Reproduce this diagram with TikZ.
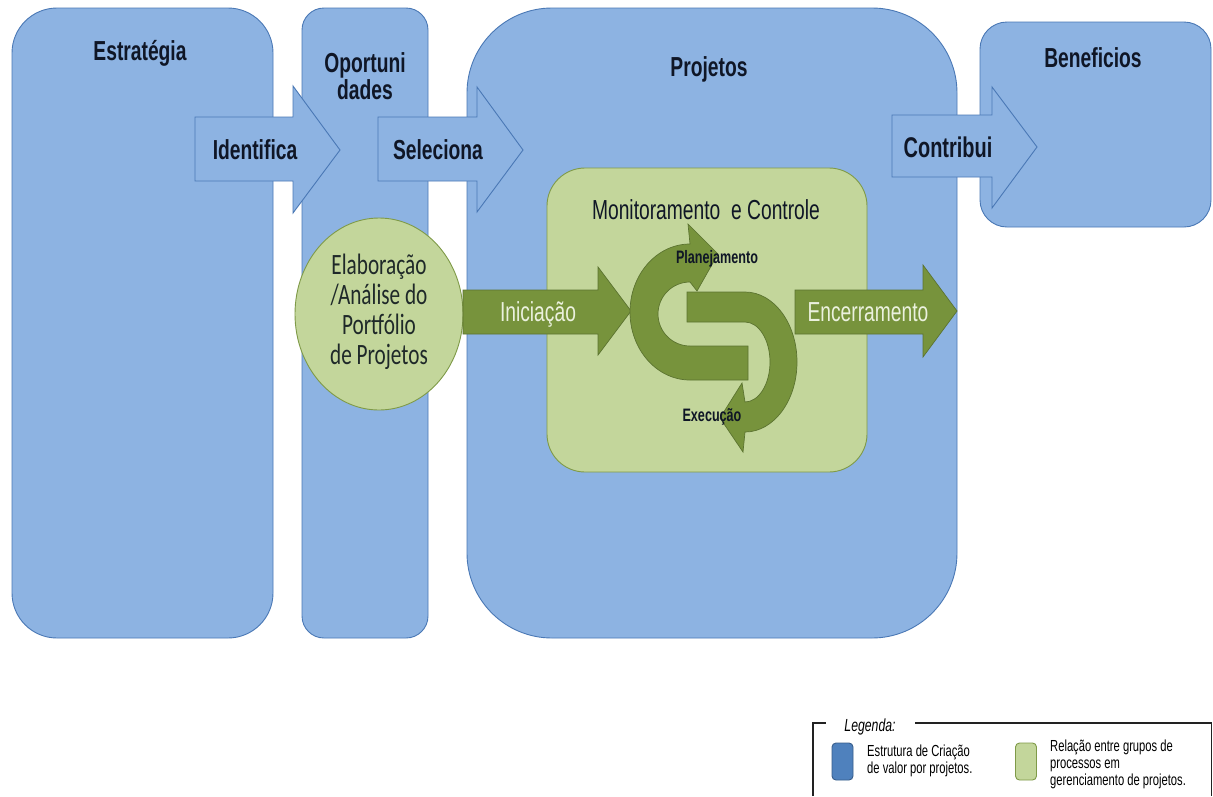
\documentclass[tikz,border=0pt]{standalone}
\usepackage{fontspec}
\setmainfont{Liberation Sans}
\newfontfamily\nsans[FakeStretch=0.7]{Liberation Sans}
\newfontfamily\calib[FakeStretch=0.72]{Carlito}
\usetikzlibrary{shapes.geometric}
\definecolor{boxblue}{HTML}{8DB3E2}
\definecolor{boxline}{HTML}{4A78B5}
\definecolor{olive}{HTML}{77933C}
\definecolor{olivedark}{HTML}{5B7330}
\definecolor{lightolive}{HTML}{C3D69B}
\definecolor{lightoliveline}{HTML}{7F9A48}
\definecolor{ink}{HTML}{0F1626}
\definecolor{paletext}{HTML}{EBF1DE}
\definecolor{legblue}{HTML}{4F81BD}
\definecolor{legblueline}{HTML}{385D8A}
\definecolor{legline}{HTML}{222222}
\begin{document}
\begin{tikzpicture}[x=1pt,y=-1pt,
  bluebox/.style={draw=boxline,fill=boxblue,line width=0.9pt,inner sep=0pt,outer sep=0pt},
  bluearrow/.style={draw=boxline,fill=boxblue,line width=0.9pt,line join=miter},
  greenarrow/.style={draw=olivedark,fill=olive,line width=0.7pt,line join=miter},
  greenbox/.style={draw=lightoliveline,fill=lightolive,line width=0.9pt,inner sep=0pt,outer sep=0pt},
  title/.style={font=\nsans\bfseries\fontsize{27.5}{27}\selectfont,text=ink,inner sep=0pt,anchor=base},
  midtext/.style={font=\nsans\fontsize{27.5}{28}\selectfont,text=ink,inner sep=0pt,anchor=base},
  smalltext/.style={font=\nsans\bfseries\fontsize{18}{19}\selectfont,text=ink,inner sep=0pt,anchor=base},
  circtext/.style={font=\calib\fontsize{29.5}{30}\selectfont,text=ink!85!olive,inner sep=0pt,align=center},
  legtext/.style={font=\nsans\fontsize{16}{17}\selectfont,text=black,inner sep=0pt,align=left},
  legrule/.style={draw=legline,line width=1.2pt},
  swatch/.style={rounded corners=4pt,minimum width=21pt,minimum height=37pt,inner sep=0pt,line width=0.9pt}
]
\fill[white] (0,0) rectangle (1213,796);
\useasboundingbox (0,0) rectangle (1213,796);

% main blue structure
\node[bluebox,rounded corners=45pt,minimum width=261pt,minimum height=630pt] (estrategia) at (142.5,323) {};
\node[bluebox,rounded corners=22pt,minimum width=126pt,minimum height=630pt] (oportunidades) at (365,323) {};
\node[bluebox,rounded corners=85pt,minimum width=490pt,minimum height=630pt] (projetos) at (712,323) {};
\node[bluebox,rounded corners=27pt,minimum width=231pt,minimum height=205pt] (beneficios) at (1095.5,124.5) {};

% blue block arrows
\draw[bluearrow] (195,117) -- (293,117) -- (293,86) -- (340,150) -- (293,213) -- (293,181) -- (195,181) -- cycle;
\draw[bluearrow] (378,117) -- (477,117) -- (477,87) -- (523,150) -- (477,212) -- (477,181) -- (378,181) -- cycle;
\draw[bluearrow] (892,115) -- (992,115) -- (992,87) -- (1037,147) -- (992,208) -- (992,177) -- (892,177) -- cycle;

% green process area
\node[greenbox,rounded corners=38pt,minimum width=320pt,minimum height=304pt] (monitor) at (707,320) {};
\node[greenbox,ellipse,minimum width=168pt,minimum height=192pt] (portfolio) at (379,314) {};

% green block arrows
\draw[greenarrow] (463,290) -- (598,290) -- (598,267) -- (631,311) -- (598,355) -- (598,334) -- (463,334) -- cycle;
\draw[greenarrow] (795,290) -- (923,290) -- (923,265) -- (957,311) -- (923,357) -- (923,334) -- (795,334) -- cycle;

% cycle: execution U-turn
\draw[greenarrow] (687,292) -- (745,292)
  arc[start angle=270,end angle=450,x radius=52,y radius=70]
  -- (743,452) -- (720,418) -- (742,383) -- (745,402)
  arc[start angle=90,end angle=-90,x radius=25,y radius=40]
  -- (687,322) -- cycle;
% cycle: planning U-turn
\draw[greenarrow] (748,346) -- (690,346)
  arc[start angle=90,end angle=270,x radius=32,y radius=32]
  -- (697,291) -- (718,254) -- (688,224) -- (690,244)
  arc[start angle=270,end angle=90,x radius=60,y radius=68]
  -- (748,380) -- cycle;

% texts
\node[title] (testr) at (140,60) {Estratégia};
\node[title,align=center,anchor=north] (topor) at (365,52) {Oportuni\\dades};
\node[title] (tproj) at (709,76) {Projetos};
\node[title] (tbenef) at (1093,67) {Beneficios};
\node[title] (tident) at (255,159) {Identifica};
\node[title] (tselec) at (438,159) {Seleciona};
\node[title,font=\nsans\bfseries\fontsize{28.5}{27}\selectfont] (tcontr) at (948,157) {Contribui};
\node[midtext] (tmon) at (706,219) {Monitoramento\ \ e Controle};
\node[midtext,text=paletext] (tinic) at (538,321) {Iniciação};
\node[midtext,text=paletext] (tencer) at (868,321) {Encerramento};
\node[smalltext] (tplan) at (717,263) {Planejamento};
\node[smalltext] (texec) at (712,421) {Execução};
\node[circtext] (tport) at (379,312) {Elaboração\\/Análise do\\Portfólio\\de Projetos};

% legend
\coordinate (lgA) at (813,796);
\coordinate (lgB) at (813,723);
\coordinate (lgC) at (826,723);
\coordinate (lgD) at (915,723);
\coordinate (lgE) at (1211.5,723);
\coordinate (lgF) at (1211.5,796);
\draw[legrule] (lgA) -- (lgB) -- (lgC);
\draw[legrule] (lgD) -- (lgE) -- (lgF);
\node[font=\nsans\itshape\fontsize{17.5}{18}\selectfont,anchor=base,inner sep=0pt] (tleg) at (870,731) {Legenda:};
\node[swatch,draw=legblueline,fill=legblue] (swblue) at (842.5,761.5) {};
\node[swatch,draw=lightoliveline,fill=lightolive] (swgreen) at (1026,761.5) {};
\node[legtext,anchor=north west] (legb) at (867,745) {Estrutura de Criação\\de valor por projetos.};
\node[legtext,anchor=north west] (legg) at (1050,740) {Relação entre grupos de\\processos em\\gerenciamento de projetos.};
\end{tikzpicture}
\end{document}
